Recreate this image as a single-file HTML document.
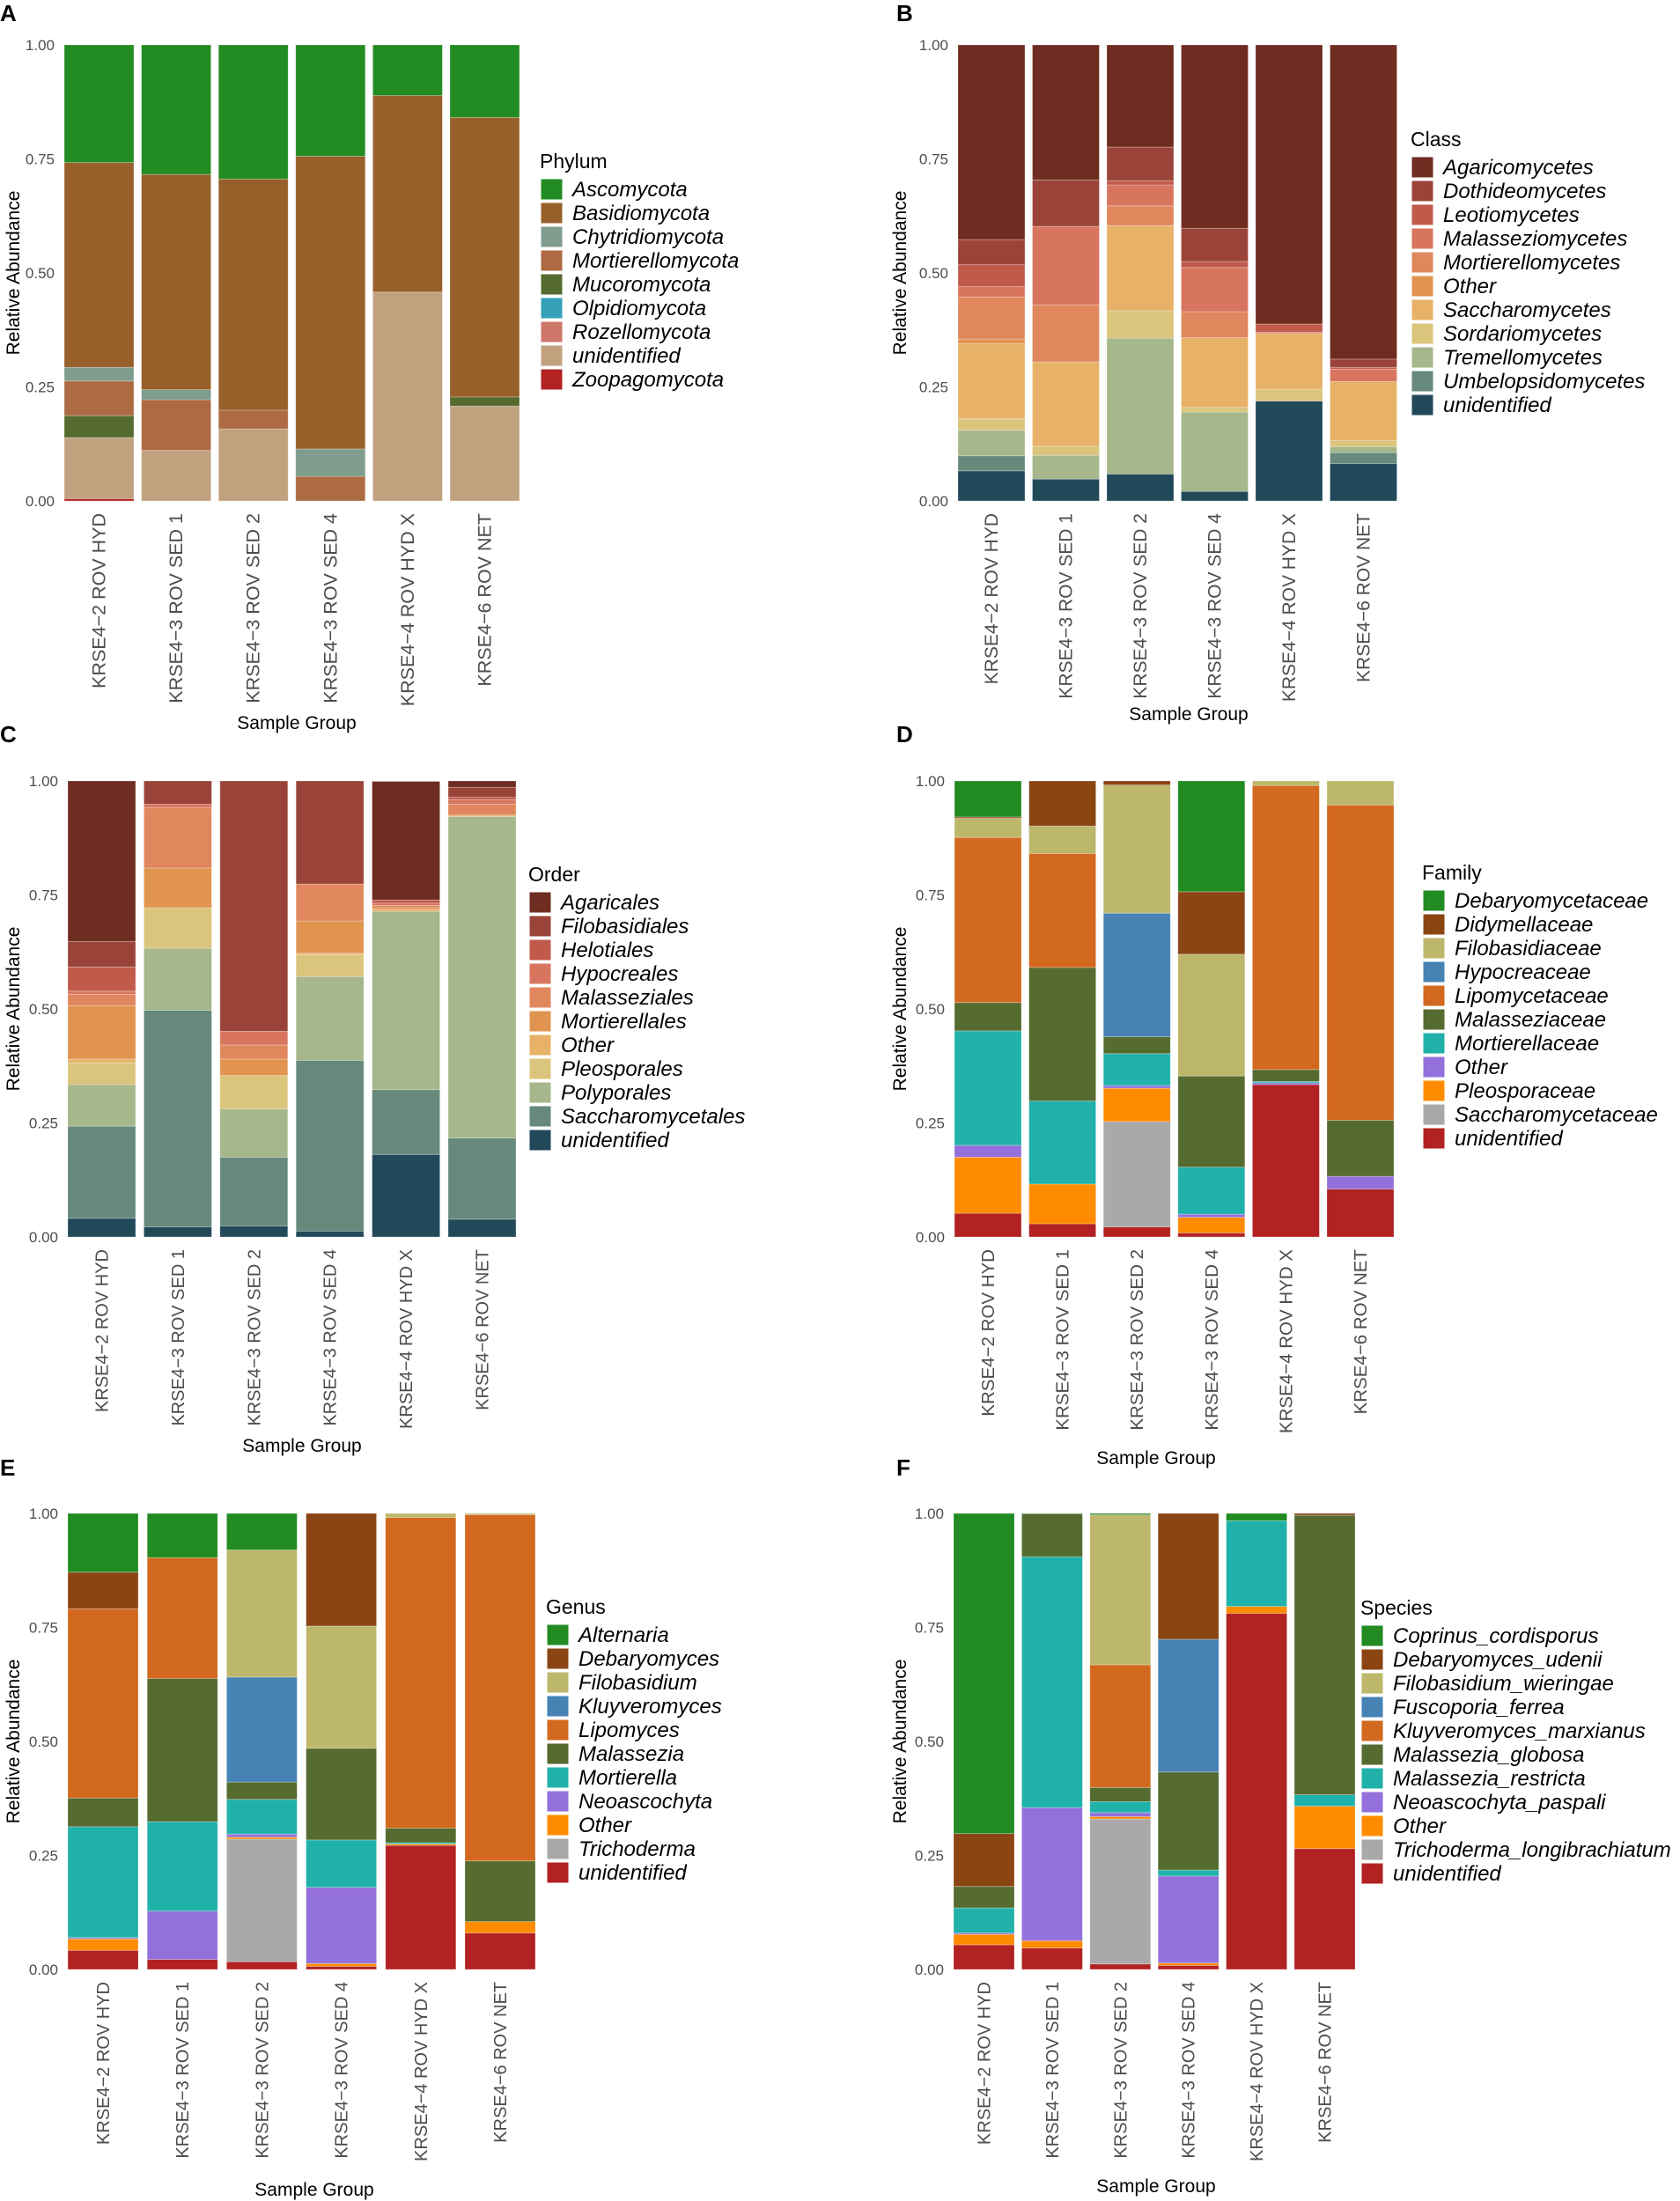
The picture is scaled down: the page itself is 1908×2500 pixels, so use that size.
<!DOCTYPE html>
<html><head><meta charset="utf-8"><style>
html,body{margin:0;padding:0;background:#fff;}
svg{display:block;font-family:"Liberation Sans",Arial,sans-serif;}
</style></head><body>
<svg id="fig" width="1908" height="2500" viewBox="0 0 1908 2500" xmlns="http://www.w3.org/2000/svg"></svg>
<script>
const samples = ["KRSE4\u22122 ROV HYD","KRSE4\u22123 ROV SED 1","KRSE4\u22123 ROV SED 2","KRSE4\u22123 ROV SED 4","KRSE4\u22124 ROV HYD X","KRSE4\u22126 ROV NET"];
const yTicks = [0, 0.25, 0.5, 0.75, 1];
const yTickLabels = ["0.00","0.25","0.50","0.75","1.00"];

const phylumTaxa = ["Ascomycota","Basidiomycota","Chytridiomycota","Mortierellomycota","Mucoromycota","Olpidiomycota","Rozellomycota","unidentified","Zoopagomycota"];
const phylumValues = [
 [.258,.449,.030,.076,.048,0,0,.134,.005],
 [.284,.472,.022,.111,0,0,0,.111,0],
 [.294,.507,0,.041,0,0,0,.158,0],
 [.244,.642,.060,.054,0,0,0,0,0],
 [.111,.431,0,0,0,0,0,.458,0],
 [.159,.613,0,0,.020,0,0,.208,0]];
const classTaxa = ["Agaricomycetes","Dothideomycetes","Leotiomycetes","Malasseziomycetes","Mortierellomycetes","Other","Saccharomycetes","Sordariomycetes","Tremellomycetes","Umbelopsidomycetes","unidentified"];
const classValues = [
 [.427,.055,.048,.023,.092,.010,.165,.025,.056,.033,.066],
 [.296,.102,0,.172,.125,0,.185,.020,.052,0,.048],
 [.224,.074,.009,.046,.043,0,.187,.060,.298,0,.059],
 [.402,.073,.013,.097,.057,0,.153,.010,.174,0,.021],
 [.615,0,.018,.003,0,0,.123,.025,0,0,.219],
 [.689,.018,.004,.027,0,0,.130,.013,.013,.024,.082]];
const orderTaxa = ["Agaricales","Filobasidiales","Helotiales","Hypocreales","Malasseziales","Mortierellales","Other","Pleosporales","Polyporales","Saccharomycetales","unidentified"];
const orderValues = [
 [.352,.056,.053,.007,.025,.117,.008,.048,.091,.202,.041],
 [0,.051,0,.008,.132,.087,0,.089,.136,.475,.022],
 [0,.549,0,.030,.031,.036,0,.073,.106,.151,.024],
 [0,.226,0,0,.081,.071,.003,.048,.184,.374,.013],
 [.260,0,.007,.005,.005,.004,.004,0,.391,.142,.181],
 [.015,.022,.005,.010,.024,0,.003,0,.705,.178,.039]];
const familyTaxa = ["Debaryomycetaceae","Didymellaceae","Filobasidiaceae","Hypocreaceae","Lipomycetaceae","Malasseziaceae","Mortierellaceae","Other","Pleosporaceae","Saccharomycetaceae","unidentified"];
const familyValues = [
 [.079,.003,.042,0,.362,.062,.251,.026,.123,0,.052],
 [0,.099,.060,0,.250,.293,.182,0,.087,0,.029],
 [0,.009,.281,.271,0,.037,.070,.006,.073,.231,.022],
 [.243,.137,.267,0,0,.200,.103,.007,.034,0,.009],
 [0,0,.010,0,.623,.026,.003,.004,0,0,.334],
 [0,0,.053,0,.691,.123,0,.028,0,0,.105]];
const genusTaxa = ["Alternaria","Debaryomyces","Filobasidium","Kluyveromyces","Lipomyces","Malassezia","Mortierella","Neoascochyta","Other","Trichoderma","unidentified"];
const genusValues = [
 [.129,.080,0,0,.415,.063,.243,.003,.025,0,.042],
 [.097,0,0,0,.265,.314,.196,.106,0,0,.022],
 [.080,0,.279,.230,0,.038,.076,.007,.004,.269,.017],
 [0,.247,.268,0,0,.201,.104,.167,.006,0,.007],
 [0,0,.009,0,.681,.032,.003,0,.003,0,.272],
 [0,0,.003,0,.759,.133,0,0,.025,0,.080]];
const speciesTaxa = ["Coprinus_cordisporus","Debaryomyces_udenii","Filobasidium_wieringae","Fuscoporia_ferrea","Kluyveromyces_marxianus","Malassezia_globosa","Malassezia_restricta","Neoascochyta_paspali","Other","Trichoderma_longibrachiatum","unidentified"];
const speciesValues = [
 [.702,.116,0,0,0,.047,.055,.003,.023,0,.054],
 [.001,0,0,0,0,.094,.550,.292,.016,0,.047],
 [.003,0,.329,0,.269,.031,.024,.009,.005,.318,.012],
 [0,.276,0,.291,0,.215,.013,.191,.005,0,.009],
 [.016,0,0,0,0,0,.188,0,.015,0,.781],
 [0,.004,0,0,0,.613,.025,0,.093,0,.265]];

const palPhylum = ["#228B22","#975F29","#7F9C8C","#AD6B43","#556B2F","#35A0B8","#CD7868","#C1A27E","#B22222"];
const palWarm = ["#6E2D20","#9A4439","#C05A4B","#D8755F","#E0875E","#E09450","#E7B267","#DBC47C","#A5B78B","#66897B","#21495A"];
const palOrder = ["#6E2D20","#9A4439","#C05A4B","#D8755F","#E0875E","#E09450","#E7B267","#DBC47C","#A5B78B","#66897B","#21495A"];
const palFam = ["#228B22","#8B4513","#BDB76B","#4682B4","#D2691E","#556B2F","#20B2AA","#9370DB","#FF8C00","#A9A9A9","#B22222"];

const NS = "http://www.w3.org/2000/svg";
const svg = document.getElementById("fig");
function mk(tag, attrs, parent){const e=document.createElementNS(NS,tag);for(const k in attrs)e.setAttribute(k,attrs[k]);(parent||svg).appendChild(e);return e;}

function panel(o){
  const g = mk("g",{});
  
  
  const yScale = v => o.bottom - v*(o.bottom-o.top);
  const xBand = i => o.x0 + i*o.step;
  const L = mk("text",{x:o.lx,y:o.ly,"font-size":26,"font-weight":"bold",fill:"#000"},g);
  L.textContent=o.letter;
  
  
  yTicks.forEach((t,i)=>{
    const tx = mk("text",{x:o.x0-11,y:yScale(t)+6,"font-size":17,fill:"#4d4d4d","text-anchor":"end"},g);
    tx.textContent=yTickLabels[i];
    
    
  });
  const yt = mk("text",{x:0,y:0,"font-size":21,fill:"#000","text-anchor":"middle",transform:`translate(${o.ytx},${(o.top+o.bottom)/2}) rotate(-90)`},g);
  yt.textContent="Relative Abundance";
  
  
  o.values.forEach((row,i)=>{
    let cum=0;
    for(let k=row.length-1;k>=0;k--){
      const v=row[k]; if(v<=0) continue;
      const y1=yScale(Math.min(1,cum+v)), y0=yScale(cum);
      const r=mk("rect",{x:xBand(i),y:y1,width:o.bw,height:Math.max(0,y0-y1),fill:o.pal[k],stroke:"#ffffff","stroke-opacity":0.35,"stroke-width":0.8},g);
      
      
      cum+=v;
    }
    const cx = xBand(i)+o.bw/2;
    const xl = mk("text",{x:0,y:0,"font-size":o.xfs,fill:"#4d4d4d","text-anchor":"end",transform:`translate(${cx+7},${o.bottom+14}) rotate(-90)`},g);
    xl.textContent=samples[i];
    
    
  });
  const xt = mk("text",{x:o.sgx,y:o.sgy,"font-size":21,fill:"#000","text-anchor":"middle"},g);
  xt.textContent="Sample Group";
  
  
  const lt = mk("text",{x:o.legx,y:o.legy+8,"font-size":23,fill:"#000"},g);
  lt.textContent=o.title;
  
  
  o.taxa.forEach((t,k)=>{
    const yy=o.legy+20+k*27;
    const sw=mk("rect",{x:o.legx+1,y:yy,width:25,height:24,fill:o.pal[k],stroke:"#ffffff","stroke-width":1},g);
    
    
    const tx=mk("text",{x:o.legx+37,y:yy+20,"font-size":24,"font-style":"italic",fill:"#000"},g);
    tx.textContent=t;
    
    
  });
}

panel({letter:"A",lx:0,ly:24,x0:73,bw:79,step:87.6,top:51,bottom:569,ytx:22,sgx:337,sgy:828,xfs:21.5,values:phylumValues,taxa:phylumTaxa,pal:palPhylum,title:"Phylum",legx:613,legy:183});
panel({letter:"B",lx:1018,ly:24,x0:1088,bw:76,step:84.5,top:51,bottom:569,ytx:1029,sgx:1350,sgy:818,xfs:21,values:classValues,taxa:classTaxa,pal:palWarm,title:"Class",legx:1602,legy:158});
panel({letter:"C",lx:0,ly:843,x0:77,bw:77,step:86.4,top:887,bottom:1405,ytx:22,sgx:343,sgy:1649,xfs:20,values:orderValues,taxa:orderTaxa,pal:palOrder,title:"Order",legx:600,legy:993});
panel({letter:"D",lx:1018,ly:843,x0:1084,bw:76,step:84.6,top:887,bottom:1405,ytx:1029,sgx:1313,sgy:1663,xfs:20.5,values:familyValues,taxa:familyTaxa,pal:palFam,title:"Family",legx:1615,legy:991});
panel({letter:"E",lx:0,ly:1676,x0:77,bw:80,step:90.2,top:1719,bottom:2237,ytx:22,sgx:357,sgy:2494,xfs:20,values:genusValues,taxa:genusTaxa,pal:palFam,title:"Genus",legx:620,legy:1825});
panel({letter:"F",lx:1018,ly:1676,x0:1083,bw:69,step:77.4,top:1719,bottom:2237,ytx:1029,sgx:1313,sgy:2490,xfs:20,values:speciesValues,taxa:speciesTaxa,pal:palFam,title:"Species",legx:1545,legy:1826});
</script>
</body></html>
